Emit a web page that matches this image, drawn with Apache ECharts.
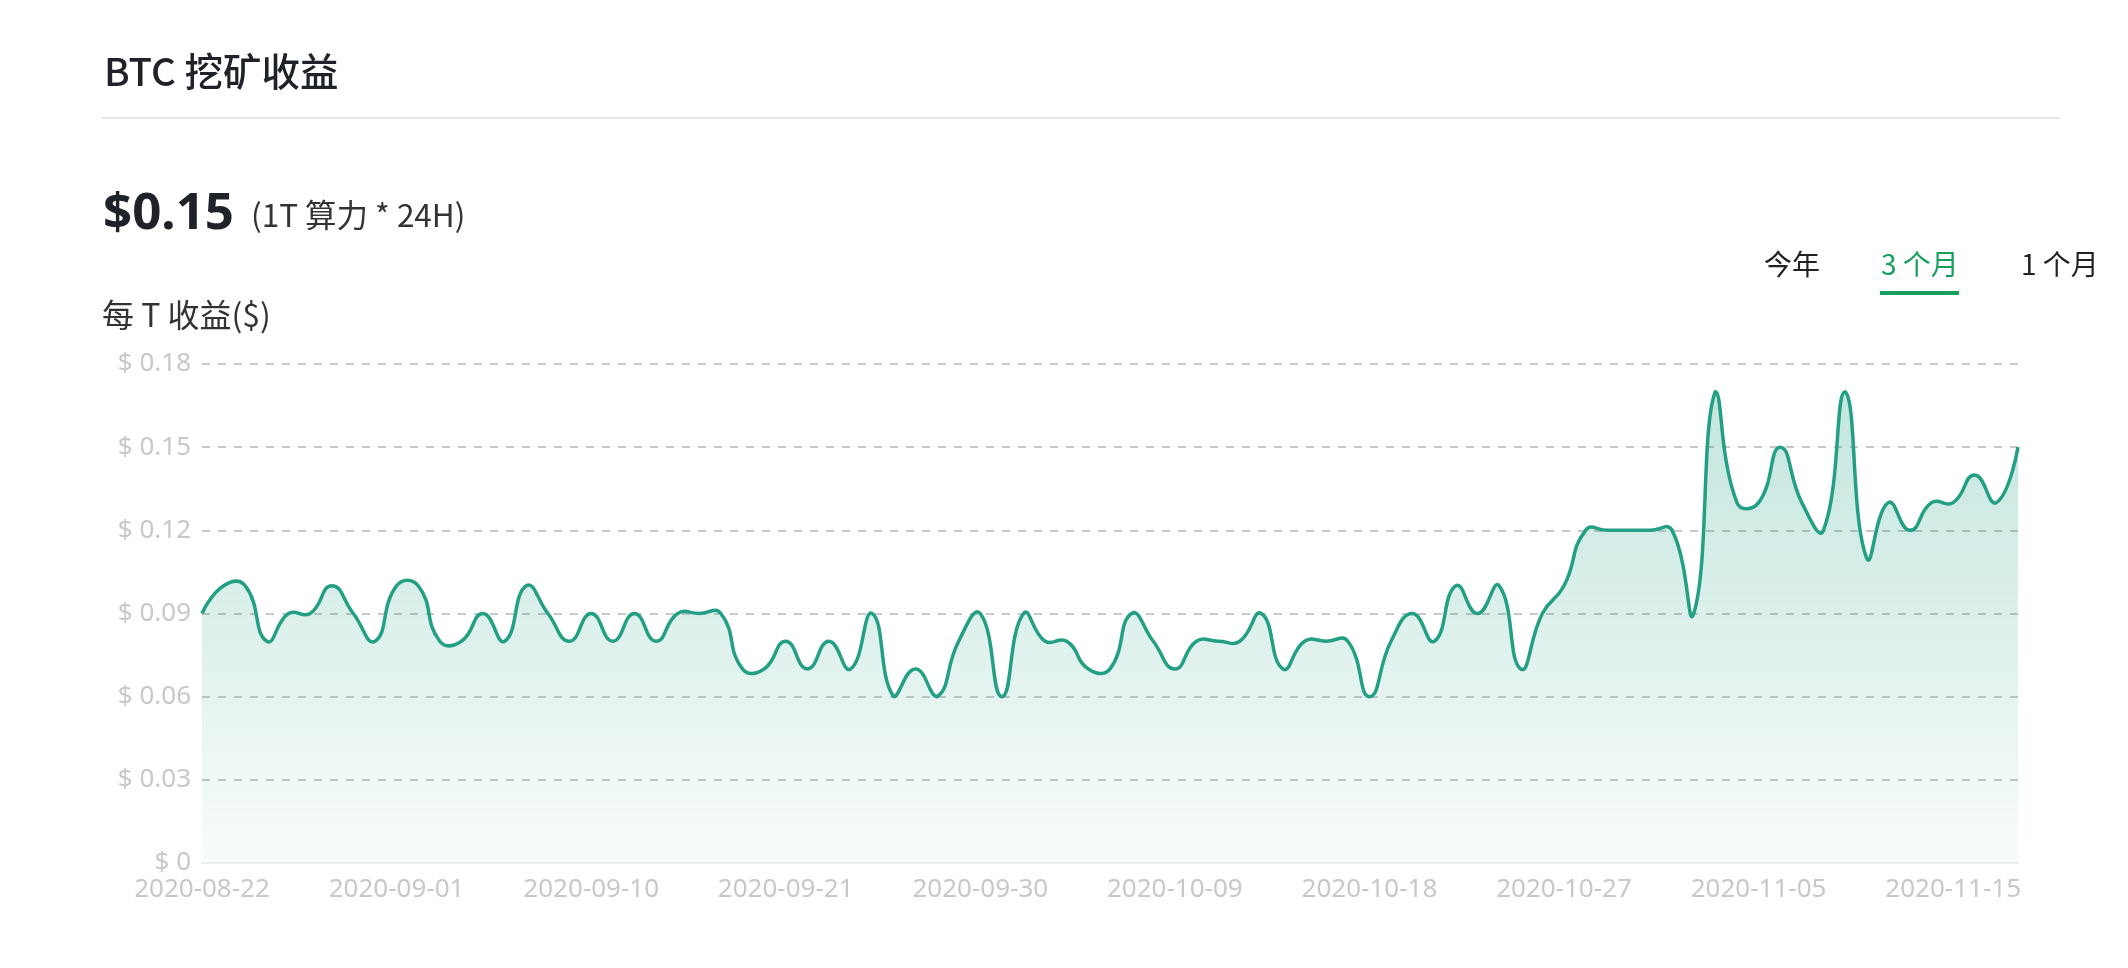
<!DOCTYPE html>
<html>
<head>
<meta charset="utf-8">
<script src="https://cdn.jsdelivr.net/npm/echarts@6/dist/echarts.min.js"></script>
<style>
  html, body { margin: 0; padding: 0; background: #fff; width: 2128px; height: 968px; overflow: hidden; }
  #chart { position: absolute; left: 0; top: 0; width: 2128px; height: 968px; }
  .t { position: absolute; white-space: nowrap; line-height: 1; z-index: 2; }
  #title { left: 104px; top: 41px; font: 500 38.5px "Noto Sans CJK SC", "Noto Sans", sans-serif; color: #1f2329; }
  #sep { position: absolute; left: 102px; top: 117px; width: 1958px; height: 2px; background: #e6e6e6; z-index: 2; }
  #price { left: 103px; top: 174px; font: 700 51px "Noto Sans", "Open Sans", sans-serif; color: #1f2329; }
  #unit { left: 251px; top: 190px; font: 400 31.5px "Noto Sans CJK SC", "Noto Sans", sans-serif; color: #333; }
  .tab { top: 243px; font: 400 28px "Noto Sans CJK SC", "Noto Sans", sans-serif; color: #222; }
  #tab1 { left: 1764px; }
  #tab2 { left: 1881px; color: #16a05c; }
  #tab3 { left: 2021px; }
  #uline { position: absolute; left: 1880px; top: 291px; width: 79px; height: 4px; background: #16a05c; z-index: 2; }
</style>
</head>
<body>
<div id="chart"></div>
<div class="t" id="title">BTC 挖矿收益</div>
<div id="sep"></div>
<div class="t" id="price">$0.15</div>
<div class="t" id="unit">(1T 算力 * 24H)</div>
<div class="t tab" id="tab1">今年</div>
<div class="t tab" id="tab2">3 个月</div>
<div class="t tab" id="tab3">1 个月</div>
<div id="uline"></div>
<script>
const dates = [
  "2020-08-22","2020-08-23","2020-08-24","2020-08-25","2020-08-26","2020-08-28","2020-08-29","2020-08-30","2020-08-31",
  "2020-09-01","2020-09-02","2020-09-03","2020-09-04","2020-09-05","2020-09-06","2020-09-07","2020-09-08","2020-09-09",
  "2020-09-10","2020-09-11","2020-09-12","2020-09-13","2020-09-15","2020-09-16","2020-09-18","2020-09-19","2020-09-20",
  "2020-09-21","2020-09-22","2020-09-23","2020-09-24","2020-09-25","2020-09-26","2020-09-27","2020-09-28","2020-09-29",
  "2020-09-30","2020-10-01","2020-10-02","2020-10-03","2020-10-04","2020-10-05","2020-10-06","2020-10-07","2020-10-08",
  "2020-10-09","2020-10-10","2020-10-11","2020-10-12","2020-10-13","2020-10-14","2020-10-15","2020-10-16","2020-10-17",
  "2020-10-18","2020-10-19","2020-10-20","2020-10-21","2020-10-22","2020-10-23","2020-10-24","2020-10-25","2020-10-26",
  "2020-10-27","2020-10-28","2020-10-29","2020-10-30","2020-10-31","2020-11-01","2020-11-02","2020-11-03","2020-11-04",
  "2020-11-05","2020-11-06","2020-11-07","2020-11-08","2020-11-10","2020-11-11","2020-11-12","2020-11-13","2020-11-14",
  "2020-11-15","2020-11-16","2020-11-17","2020-11-18"
];
const revenue = [
  0.09,0.10,0.10,0.08,0.09,0.09,0.10,0.09,0.08,
  0.10,0.10,0.08,0.08,0.09,0.08,0.10,0.09,0.08,
  0.09,0.08,0.09,0.08,0.09,0.09,0.09,0.07,0.07,
  0.08,0.07,0.08,0.07,0.09,0.06,0.07,0.06,0.08,
  0.09,0.06,0.09,0.08,0.08,0.07,0.07,0.09,0.08,
  0.07,0.08,0.08,0.08,0.09,0.07,0.08,0.08,0.08,
  0.06,0.08,0.09,0.08,0.10,0.09,0.10,0.07,0.09,
  0.10,0.12,0.12,0.12,0.12,0.12,0.09,0.17,0.13,
  0.13,0.15,0.13,0.12,0.17,0.11,0.13,0.12,0.13,
  0.13,0.14,0.13,0.15
];
const yTicks = { min: 0, max: 0.18, interval: 0.03 };
const yAxisName = "每 T 收益($)";

const lineColor = '#23a083';
const SMOOTH = 0.5;

// Bezier control points (classic smoothing, constrained to the points' bounding box)
function smoothPathData(pts, smooth) {
  let minX = Infinity, minY = Infinity, maxX = -Infinity, maxY = -Infinity;
  pts.forEach(p => {
    minX = Math.min(minX, p[0]); maxX = Math.max(maxX, p[0]);
    minY = Math.min(minY, p[1]); maxY = Math.max(maxY, p[1]);
  });
  const clampPt = p => [Math.min(Math.max(p[0], minX), maxX), Math.min(Math.max(p[1], minY), maxY)];
  const cps = [];
  for (let i = 0; i < pts.length; i++) {
    if (i === 0 || i === pts.length - 1) { cps.push(pts[i].slice()); continue; }
    const prev = pts[i - 1], next = pts[i + 1], p = pts[i];
    const vx = (next[0] - prev[0]) * smooth, vy = (next[1] - prev[1]) * smooth;
    let d0 = Math.hypot(p[0] - prev[0], p[1] - prev[1]);
    let d1 = Math.hypot(p[0] - next[0], p[1] - next[1]);
    const s = d0 + d1;
    if (s !== 0) { d0 /= s; d1 /= s; }
    cps.push(clampPt([p[0] - vx * d0, p[1] - vy * d0]));
    cps.push(clampPt([p[0] + vx * d1, p[1] + vy * d1]));
  }
  let d = 'M' + pts[0][0] + ',' + pts[0][1];
  for (let i = 0; i < pts.length - 1; i++) {
    const c0 = cps[i * 2], c1 = cps[i * 2 + 1], p = pts[i + 1];
    d += 'C' + c0[0] + ',' + c0[1] + ',' + c1[0] + ',' + c1[1] + ',' + p[0] + ',' + p[1];
  }
  return d;
}

const chart = echarts.init(document.getElementById('chart'), null, { renderer: 'canvas' });
chart.setOption({
  animation: false,
  grid: { left: 202, right: 110, top: 364, bottom: 105, containLabel: false },
  graphic: [{
    type: 'text', left: 102, top: 299,
    style: { text: yAxisName, font: '400 32px "Noto Sans CJK SC", "Noto Sans", sans-serif', fill: '#333' }
  }],
  xAxis: {
    type: 'category',
    data: dates,
    boundaryGap: false,
    axisLine: { lineStyle: { color: '#eeeeee', width: 2 } },
    axisTick: { show: false },
    axisLabel: {
      interval: 8,
      color: '#c8c8c8',
      fontSize: 26,
      fontFamily: '"Noto Sans", sans-serif',
      margin: 14
    },
    splitLine: { show: false }
  },
  yAxis: {
    type: 'value',
    min: yTicks.min, max: yTicks.max, interval: yTicks.interval,
    axisLine: { show: false },
    axisTick: { show: false },
    axisLabel: {
      color: '#c8c8c8',
      fontSize: 26,
      fontFamily: '"Noto Sans", sans-serif',
      margin: 11,
      formatter: v => v === 0 ? '$ 0' : '$ ' + v.toFixed(2)
    },
    splitLine: { show: true, showMinLine: false, lineStyle: { color: '#c8c8c8', width: 2, type: [8, 8] } }
  },
  series: [{
    type: 'custom',
    silent: true,
    data: [[0, 0]],
    encode: { x: 0, y: 1 },
    renderItem: function (params, api) {
      const pts = revenue.map((v, i) => api.coord([i, v]));
      const base = api.coord([0, yTicks.min])[1];
      const curve = smoothPathData(pts, SMOOTH);
      const last = pts[pts.length - 1], first = pts[0];
      const area = curve + 'L' + last[0] + ',' + base + 'L' + first[0] + ',' + base + 'Z';
      return {
        type: 'group',
        children: [{
          type: 'path',
          shape: { pathData: area },
          style: {
            fill: new echarts.graphic.LinearGradient(0, 0, 0, 1, [
              { offset: 0, color: 'rgba(35,160,131,0.27)' },
              { offset: 1, color: 'rgba(35,160,131,0.03)' }
            ]),
            stroke: null
          }
        }, {
          type: 'path',
          shape: { pathData: curve },
          style: { fill: null, stroke: lineColor, lineWidth: 3.5, lineJoin: 'round' }
        }]
      };
    }
  }]
});
</script>
</body>
</html>
